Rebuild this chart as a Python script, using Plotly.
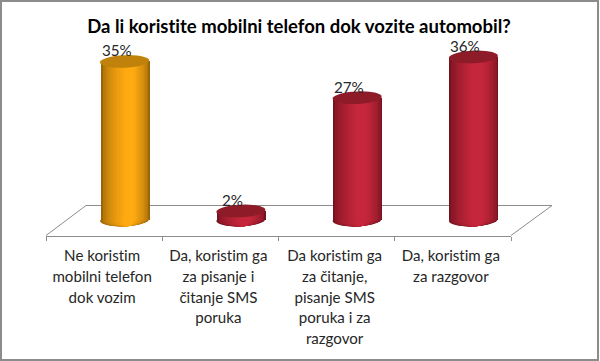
import math
import plotly.graph_objects as go

TITLE = "Da li koristite mobilni telefon dok vozite automobil?"
categories = [
    "Ne koristim<br>mobilni telefon<br>dok vozim",
    "Da, koristim ga<br>za pisanje i<br>čitanje SMS<br>poruka",
    "Da koristim ga<br>za čitanje,<br>pisanje SMS<br>poruka i za<br>razgovor",
    "Da, koristim ga<br>za razgovor",
]
values = [35, 2, 27, 36]
edge_colors = ["#9a6508", "#751320", "#751320", "#751320"]
light_colors = ["#ffaa10", "#c6263b", "#c6263b", "#c6263b"]
top_colors = ["#c0820a", "#8e1b28", "#8e1b28", "#8e1b28"]

W, H = 600, 361
FONT = "Lato, Carlito, Calibri, sans-serif"
ZERO_PX, PX_PER_UNIT = 220.0, 4.53
AXIS_PX = 235.5
FRONT = (46, 511)
SHIFT = 20.5
BAR_W_PX = 49
LAYERS = 14
NOLIG = "font-variant-ligatures:none"


def hex_rgb(c):
    return tuple(int(c[i:i + 2], 16) for i in (1, 3, 5))


def mix(a, b, t):
    ra, rb = hex_rgb(a), hex_rgb(b)
    return "rgb(%d,%d,%d)" % tuple(round(x + (y - x) * t) for x, y in zip(ra, rb))


def ellipse_path(cx, cy, rx, ry, shear):
    pts = []
    for i in range(36):
        a = 2 * math.pi * i / 36
        pts.append((cx + rx * math.cos(a), cy + ry * math.sin(a) + shear * math.cos(a)))
    return "M " + " L ".join(f"{x:.4f},{y:.4f}" for x, y in pts) + " Z"


unit_px = (FRONT[1] - FRONT[0]) / len(categories)
bar_w = BAR_W_PX / unit_px
ry = 6.3 / PX_PER_UNIT
idx = list(range(len(categories)))

tick_labels = ["<br>".join(f'<span style="font-size:15.1px;{NOLIG}">{ln}</span>' for ln in c.split("<br>")) for c in categories]

fig = go.Figure()
# category axis (front edge of the floor)
fig.add_trace(go.Scatter(x=categories, y=[0] * 4, xaxis="x", yaxis="y", mode="none", hoverinfo="skip", showlegend=False))

shapes = []
# floor outline
lines = [
    (FRONT[0], AXIS_PX, 86, 205.5),
    (86, 205.5, 552, 205.5),
    (552, 205.5, FRONT[1], AXIS_PX),
]
for x0, y0, x1, y1 in lines:
    shapes.append(dict(type="line", xref="paper", yref="paper", x0=x0 / W, x1=x1 / W, y0=1 - y0 / H, y1=1 - y1 / H,
                       line=dict(color="#8c8c8c", width=1), layer="below"))

for k in range(LAYERS):
    t = k / LAYERS
    left = -bar_w / 2 + t * 0.60 * bar_w
    right = bar_w / 2 - t * 0.40 * bar_w
    ramp = min(1, t * 1.25) ** 0.55
    cols = [mix(e, l, ramp) for e, l in zip(edge_colors, light_colors)]
    fig.add_trace(go.Bar(x=categories, y=values, xaxis="x2", yaxis="y", width=right - left, offset=left,
                         marker=dict(color=cols, line=dict(width=0)), hoverinfo="skip", showlegend=False))
    for i in idx:
        shapes.append(dict(type="path", xref="x2", yref="y",
                           path=ellipse_path(i + (left + right) / 2, 0, (right - left) / 2, ry, 1 / PX_PER_UNIT),
                           fillcolor=cols[i], line=dict(width=0), layer="below"))

for i, v in enumerate(values):
    shapes.append(dict(type="path", xref="x2", yref="y",
                       path=ellipse_path(i, v, bar_w / 2, ry, 1 / PX_PER_UNIT),
                       fillcolor=top_colors[i], line=dict(width=0), layer="above"))

# outer frame
shapes.append(dict(type="rect", xref="paper", yref="paper", x0=1 / W, x1=598 / W, y0=1 - 360 / H, y1=1 - 1 / H,
                   line=dict(color="#8c8c8c", width=2), fillcolor="rgba(0,0,0,0)", layer="above"))

annotations = [
    dict(text=f"{v}%", x=i, y=v, xref="x2", yref="y", xshift=-8, yshift=11, showarrow=False,
         font=dict(family=FONT, size=15.2, color="#262626"), xanchor="center", yanchor="middle")
    for i, v in enumerate(values)
]

fig.update_layout(
    width=W, height=H, margin=dict(l=0, r=0, t=0, b=0),
    paper_bgcolor="white", plot_bgcolor="rgba(0,0,0,0)",
    barmode="overlay", bargap=0, showlegend=False,
    title=dict(text=f'<b><span style="{NOLIG}">{TITLE}</span></b>', x=299 / W, xanchor="center", y=1 - 27 / H, yanchor="middle",
               font=dict(family=FONT, size=18.5, color="#000000")),
    xaxis=dict(domain=[FRONT[0] / W, FRONT[1] / W], type="category", categoryorder="array", categoryarray=categories,
               range=[-0.5, 3.5], anchor="free", position=1 - AXIS_PX / H, tickmode="array", tickvals=categories,
               ticktext=tick_labels, tickson="boundaries", ticks="outside", ticklen=4, tickcolor="#8c8c8c",
               showline=True, linecolor="#8c8c8c", linewidth=1, showgrid=False, zeroline=False, tickangle=0,
               ticklabelstandoff=6, ticklabelshift=-2,
               tickfont=dict(family=FONT, size=15.8, color="#262626")),
    xaxis2=dict(domain=[(FRONT[0] + SHIFT) / W, (FRONT[1] + SHIFT) / W], type="category", categoryorder="array",
                categoryarray=categories, range=[-0.5, 3.5], anchor="y", visible=False),
    yaxis=dict(domain=[0, 1], range=[(ZERO_PX - H) / PX_PER_UNIT, ZERO_PX / PX_PER_UNIT], visible=False, anchor="x"),
    shapes=shapes, annotations=annotations,
)

fig.write_html("out.html", config={"displayModeBar": False},
               post_script="document.body.style.margin='0';")
